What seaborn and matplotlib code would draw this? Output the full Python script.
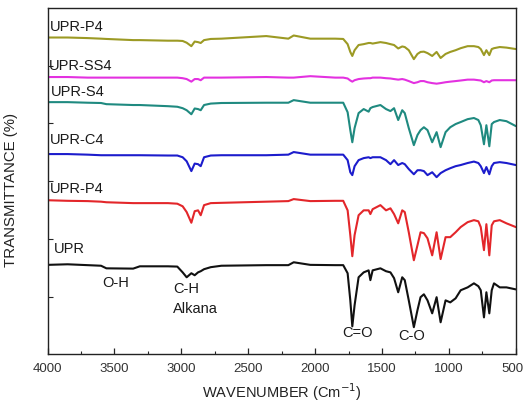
import matplotlib
matplotlib.use("Agg")
import matplotlib.pyplot as plt
import matplotlib.transforms as mtransforms
from matplotlib.ticker import MultipleLocator
import numpy as np
import pandas as pd
import seaborn as sns

# Wavenumber grid (cm^-1) shared by all spectra
wavenumber = [4000, 3850, 3700, 3600, 3560, 3360, 3310, 3100, 3030, 2990,
              2960, 2925, 2900, 2875, 2855, 2830, 2780, 2700, 2365, 2200,
              2160, 2036, 1850, 1790, 1757, 1737, 1722, 1705, 1675, 1637,
              1600, 1587, 1570, 1512, 1470, 1437, 1410, 1379, 1349, 1330,
              1300, 1262, 1235, 1212, 1187, 1160, 1125, 1092, 1062, 1025,
              990, 950, 912, 860, 813, 780, 762, 738, 720, 698,
              680, 663, 620, 570, 500]

# Stacked transmittance traces (offset, arbitrary units)
upr = [31.0, 31.2, 30.9, 30.7, 29.8, 29.7, 30.5, 30.5, 30.4, 28.4,
       26.7, 28.1, 27.4, 28.4, 28.8, 29.5, 30.2, 30.7, 30.9, 30.9,
       31.9, 31.0, 30.9, 30.9, 28.1, 18.7, 9.7, 17.0, 26.7, 28.4,
       29.1, 25.7, 29.1, 29.8, 28.8, 28.4, 26.4, 21.5, 26.7, 25.7,
       18.7, 9.4, 15.3, 19.8, 20.8, 18.7, 14.2, 19.8, 11.1, 18.7,
       18.0, 19.4, 22.2, 23.2, 24.6, 23.6, 22.2, 12.8, 21.5, 14.2,
       22.2, 24.6, 23.2, 23.2, 22.5]

upr_p4_red = [53.4, 53.2, 53.1, 52.9, 52.7, 52.4, 52.4, 52.4, 52.2, 51.3,
              49.3, 45.6, 49.6, 49.9, 48.2, 51.7, 52.4, 52.5, 52.9, 53.1,
              53.8, 53.1, 53.2, 53.2, 49.9, 41.3, 34.0, 41.3, 48.2, 49.9,
              49.9, 48.6, 50.3, 51.7, 49.9, 50.6, 48.6, 45.4, 49.9, 49.3,
              42.3, 32.6, 37.8, 42.3, 42.0, 40.2, 34.3, 42.3, 33.0, 40.6,
              40.6, 42.3, 44.1, 45.8, 46.5, 46.1, 44.1, 36.1, 45.1, 34.3,
              44.7, 46.1, 46.5, 45.4, 44.1]

upr_c4 = [69.4, 69.4, 69.2, 69.0, 69.0, 69.0, 69.0, 68.9, 68.9, 68.3,
          66.9, 63.5, 66.1, 65.9, 65.2, 68.3, 68.9, 69.0, 69.0, 69.2,
          70.1, 69.2, 69.2, 69.2, 67.3, 63.1, 62.1, 65.2, 67.3, 68.0,
          68.3, 68.0, 68.3, 68.3, 67.3, 65.9, 67.3, 65.6, 66.3, 65.9,
          64.2, 62.4, 63.8, 63.8, 63.5, 62.1, 63.1, 61.4, 62.8, 63.8,
          64.5, 65.2, 65.6, 66.3, 66.8, 66.3, 65.2, 62.8, 64.9, 62.4,
          65.2, 66.3, 66.6, 66.3, 65.6]

upr_s4 = [87.4, 87.4, 87.2, 87.1, 86.7, 86.4, 86.4, 86.0, 85.8, 85.3,
          84.6, 83.2, 85.2, 85.0, 84.6, 86.4, 86.9, 87.1, 87.2, 87.2,
          88.1, 87.2, 87.2, 87.2, 83.9, 77.7, 73.5, 78.4, 83.6, 85.0,
          84.1, 85.3, 85.7, 86.4, 85.0, 84.3, 85.3, 81.2, 84.6, 83.6,
          78.4, 72.5, 76.0, 77.7, 78.7, 77.7, 73.5, 77.0, 71.8, 77.0,
          78.7, 79.8, 80.5, 81.5, 81.9, 81.2, 79.4, 72.8, 79.4, 72.1,
          79.8, 80.5, 81.2, 80.8, 79.1]

upr_ss4 = [96.1, 96.1, 95.9, 95.9, 95.9, 95.9, 95.9, 95.9, 95.9, 95.7,
           95.4, 94.5, 95.4, 95.4, 95.0, 95.9, 95.9, 95.9, 96.1, 95.9,
           95.9, 96.4, 95.9, 95.9, 95.6, 94.9, 94.5, 95.0, 95.4, 95.6,
           95.7, 95.7, 95.9, 95.9, 95.7, 95.6, 95.4, 95.2, 95.4, 95.2,
           94.7, 94.0, 94.3, 94.7, 94.7, 94.3, 94.0, 93.8, 94.0, 94.3,
           94.5, 94.7, 94.9, 95.2, 95.2, 95.0, 94.9, 94.3, 94.7, 94.3,
           94.9, 95.0, 95.0, 95.0, 95.0]

upr_p4_olive = [109.8, 109.8, 109.6, 109.4, 109.3, 108.9, 108.9, 108.7, 108.7, 108.6,
                108.0, 106.8, 108.4, 108.2, 107.9, 108.9, 109.3, 109.4, 110.3, 109.4,
                110.5, 109.4, 109.4, 109.3, 107.5, 104.8, 103.4, 105.4, 107.2, 107.5,
                107.9, 107.9, 107.7, 108.2, 107.9, 107.5, 107.2, 106.0, 106.7, 106.5,
                105.4, 102.3, 104.1, 104.8, 104.9, 104.4, 103.4, 104.8, 102.7, 104.1,
                104.8, 105.4, 106.1, 106.8, 106.8, 106.5, 105.8, 103.7, 105.4, 103.7,
                105.8, 106.1, 106.5, 106.3, 105.8]

series_names = ["UPR", "UPR-P4 ", "UPR-C4", "UPR-S4", "UPR-SS4", "UPR-P4"]
series_values = [upr, upr_p4_red, upr_c4, upr_s4, upr_ss4, upr_p4_olive]
series_colors = ["#111111", "#e3262a", "#1c1ccc", "#1f8a80", "#e331e0", "#9c9a24"]

x_ticks = [4000, 3500, 3000, 2500, 2000, 1500, 1000, 500]

df = pd.concat(
    [pd.DataFrame({"wavenumber": wavenumber, "T": vals, "sample": name})
     for name, vals in zip(series_names, series_values)],
    ignore_index=True,
)

sns.set_theme(style="ticks")
plt.rcParams["font.family"] = ["Liberation Sans", "DejaVu Sans"]

fig = plt.figure(figsize=(5.25, 4.04), dpi=100)
ax = fig.add_axes([0.0905, 0.123, 0.892, 0.857])

sns.lineplot(data=df, x="wavenumber", y="T", hue="sample",
             hue_order=series_names, palette=series_colors,
             estimator=None, sort=False, linewidth=1.5, legend=False, ax=ax)

ax.set_xlim(4000, 500)
ax.set_ylim(0, 120)
ax.set_xticks(x_ticks)
ax.set_xticklabels([str(t) for t in x_ticks])
ax.xaxis.set_minor_locator(MultipleLocator(250))
ax.set_yticks([20, 40, 60, 80, 100])
ax.set_yticklabels([])
ax.tick_params(axis="x", which="major", direction="in", length=4.5, width=0.9,
               labelsize=9.5, labelcolor="#333333", pad=6, top=False)
ax.tick_params(axis="x", which="minor", direction="in", length=2.5, width=0.8, top=False)
ax.tick_params(axis="y", which="major", direction="in", length=3.5, width=0.8, right=False)
for sp in ax.spines.values():
    sp.set_visible(True)
    sp.set_linewidth(1.0)
    sp.set_color("#222222")

# nudge the rightmost tick label so it stays inside the canvas
for lbl in ax.get_xticklabels():
    if lbl.get_text() == "500":
        lbl.set_horizontalalignment("right")
        lbl.set_transform(lbl.get_transform()
                          + mtransforms.ScaledTranslation(8 / 100, 0, fig.dpi_scale_trans))

ax.set_xlabel("WAVENUMBER (Cm$^{-1}$)", fontsize=10.5, color="#222222", labelpad=5)
ax.set_ylabel("TRANSMITTANCE (%)", fontsize=10.8, color="#222222")
ax.yaxis.set_label_coords(-0.062, 0.474)

# Trace names
name_style = dict(fontsize=10.5, color="#1a1a1a", va="center", ha="left")
ax.text(3985, 113.4, "UPR-P4", **name_style)
ax.text(3992, 99.9, "UPR-SS4", **name_style)
ax.text(3978, 90.9, "UPR-S4", **name_style)
ax.text(3985, 74.2, "UPR-C4", **name_style)
ax.text(3985, 57.2, "UPR-P4", **name_style)
ax.text(3955, 36.4, "UPR", **name_style)

# Band assignments
band_style = dict(fontsize=10.5, color="#1a1a1a", va="center")
ax.text(3490, 24.6, "O-H", ha="center", **band_style)
ax.text(3063, 22.5, "C-H", ha="left", **band_style)
ax.text(3063, 15.6, "Alkana", ha="left", **band_style)
ax.text(1684, 7.3, "C=O", ha="center", **band_style)
ax.text(1279, 6.2, "C-O", ha="center", **band_style)

fig.savefig("out.png", dpi=100)
